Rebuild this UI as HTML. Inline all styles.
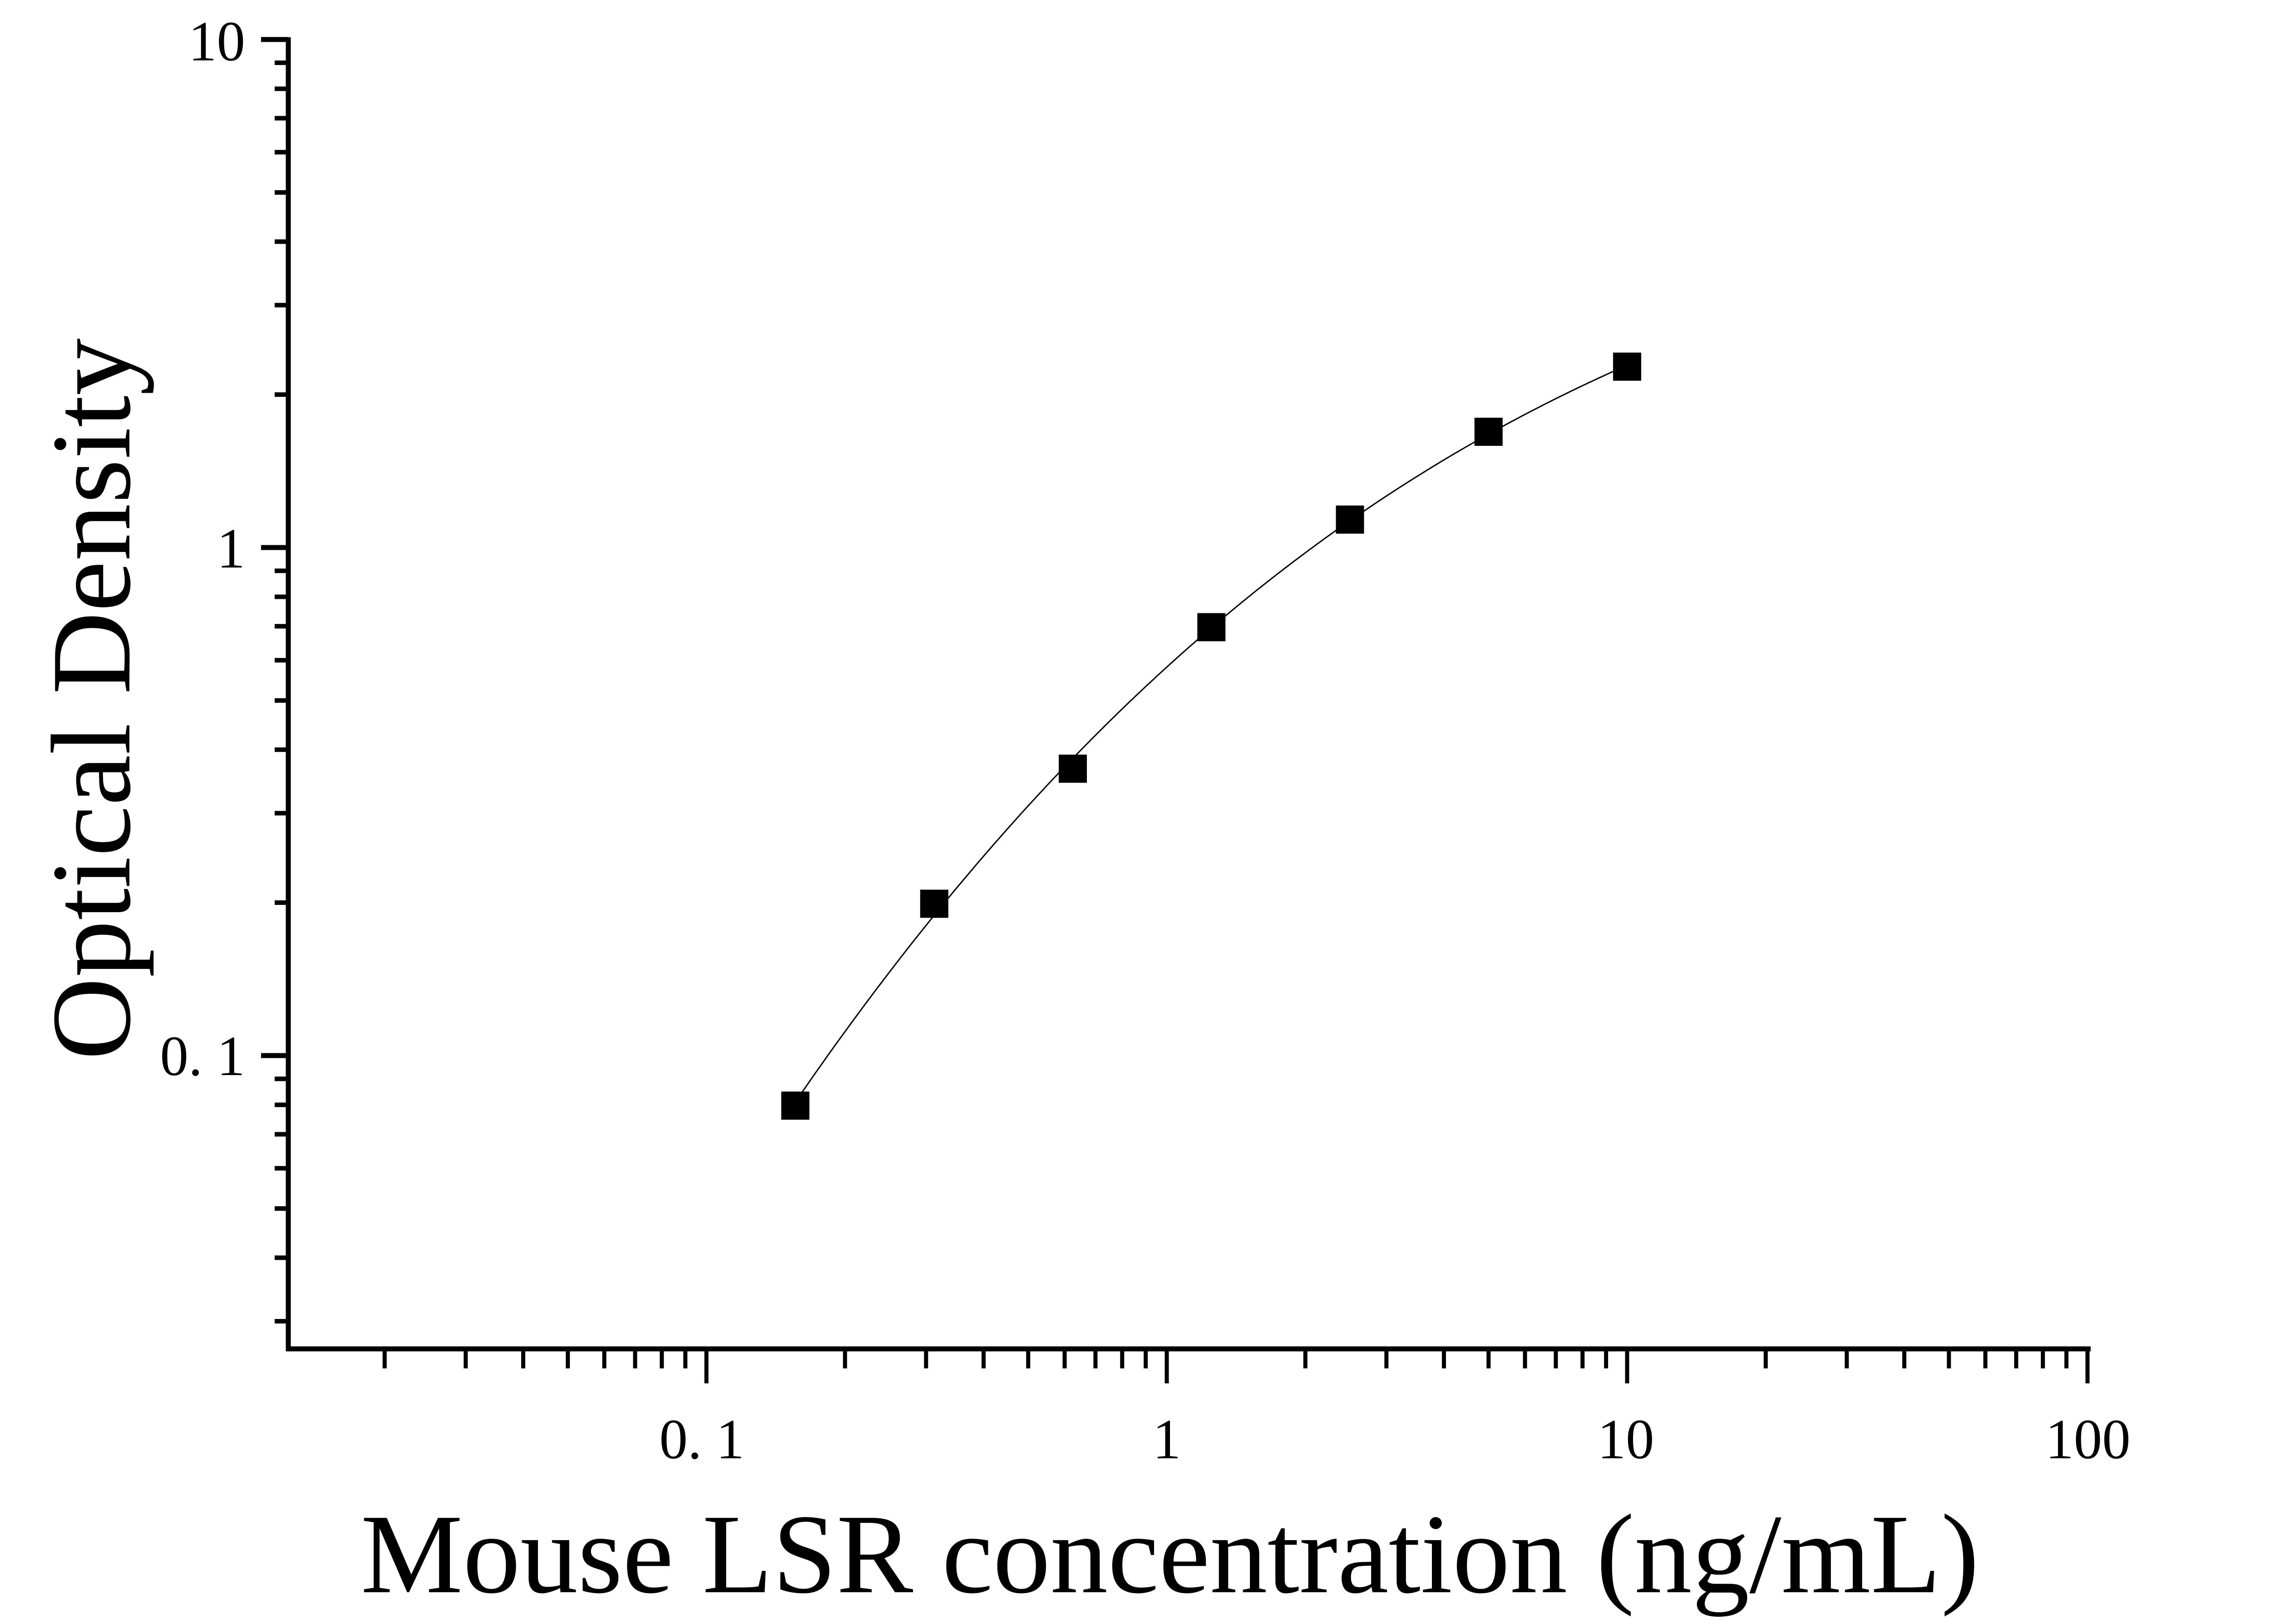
<!DOCTYPE html>
<html><head><meta charset="utf-8"><style>
html,body{margin:0;padding:0;background:#fff;}
svg{display:block;}
text{font-family:"Liberation Serif",serif;fill:#000;}
</style></head><body>
<svg id="s" width="5030" height="3577" viewBox="0 0 5030 3577" xmlns="http://www.w3.org/2000/svg">
<g id="ticks" stroke="#000"></g>
<path id="curve" fill="none" stroke="#000" stroke-width="3"/>
<g id="pts"></g>
<line x1="635" y1="82" x2="635" y2="2976" stroke="#000" stroke-width="11"/>
<line x1="630" y1="2971" x2="4605" y2="2971" stroke="#000" stroke-width="11"/>
<g font-size="125" text-anchor="middle">
<text x="1546" y="3212">0. 1</text>
<text x="2570" y="3212">1</text>
<text x="3581" y="3212">10</text>
<text x="4599" y="3212">100</text>
</g>
<g font-size="125" text-anchor="end">
<text x="540" y="133">10</text>
<text x="540" y="1250">1</text>
<text x="540" y="2368">0. 1</text>
</g>
<text x="2577" y="3507" font-size="250" text-anchor="middle" textLength="3565" lengthAdjust="spacingAndGlyphs">Mouse LSR concentration (ng/mL)</text>
<text transform="translate(285,1540) rotate(-90)" font-size="250" text-anchor="middle" textLength="1590" lengthAdjust="spacingAndGlyphs">Optical Density</text>
</svg>
<script>
(function(){
function X(v){return 2570+1014*Math.log10(v);}
function Y(v){return 1206-1119*Math.log10(v);}
var tk=document.getElementById("ticks"),s="";
function ln(a,b,c,d,w){s+='<line x1="'+a+'" y1="'+b+'" x2="'+c+'" y2="'+d+'" stroke-width="'+w+'"/>';}
for(var e=-2;e<=1;e++){for(var m=1;m<=10;m++){var v=m*Math.pow(10,e);var x=X(v);if(x<640||x>4605)continue;
 if(m==1||m==10){ln(x,2971,x,3047,9);}else ln(x,2971,x,3014,9);}}
for(var e=-2;e<=1;e++){for(var m=1;m<=10;m++){var v=m*Math.pow(10,e);var y=Y(v);if(y<80||y>2966)continue;
 if(m==1||m==10){ln(575,y,635,y,11);}else ln(605,y,635,y,10);}}
tk.innerHTML=s;
var xs=[0.156,0.3125,0.625,1.25,2.5,5,10],ys=[0.0797,0.199,0.367,0.697,1.135,1.69,2.27];
var T=xs.map(Math.log10),L=ys.map(Math.log10);
// cubic least squares
var n=4,A=[],B=[];
for(var i=0;i<n;i++){A.push([]);B.push(0);for(var j=0;j<n;j++){var sm=0;for(var k=0;k<T.length;k++)sm+=Math.pow(T[k],i+j);A[i].push(sm);}
 for(var k=0;k<T.length;k++)B[i]+=Math.pow(T[k],i)*L[k];}
for(var i=0;i<n;i++){var p=A[i][i];for(var j=i+1;j<n;j++){var f=A[j][i]/p;for(var c=i;c<n;c++)A[j][c]-=f*A[i][c];B[j]-=f*B[i];}}
var co=[0,0,0,0];for(var i=n-1;i>=0;i--){var sm=B[i];for(var j=i+1;j<n;j++)sm-=A[i][j]*co[j];co[i]=sm/A[i][i];}
var d="";for(var q=0;q<=300;q++){var t=T[0]+(T[6]-T[0])*q/300;var ly=co[0]+co[1]*t+co[2]*t*t+co[3]*t*t*t;
 d+=(q?"L":"M")+(2570+1014*t).toFixed(1)+","+(1206-1119*ly).toFixed(1);}
document.getElementById("curve").setAttribute("d",d);
var g="";xs.forEach(function(v,i){var px=X(v),py=Y(ys[i]);g+='<rect x="'+(px-31)+'" y="'+(py-31)+'" width="62" height="62" fill="#000"/>';});
document.getElementById("pts").innerHTML=g;
})();
</script>
</body></html>
